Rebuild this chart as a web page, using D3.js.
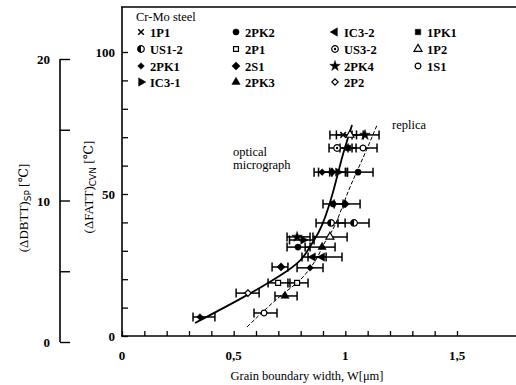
<!DOCTYPE html>
<html>
<head>
<meta charset="utf-8">
<script src="https://cdn.jsdelivr.net/npm/d3@7"></script>
<style>
  body { margin: 0; background: #fff; }
  svg { display: block; }
  text { font-family: "Liberation Serif", "DejaVu Serif", serif; fill: #000; }
</style>
</head>
<body>
<svg id="chart" width="516" height="385"></svg>
<script>
// ==================================
// DATA
// ==================================
// legend entries (row by row) and their marker
const seriesNames   = ["1P1", "2PK2", "IC3-2", "1PK1", "US1-2", "2P1", "US3-2", "1P2",
                       "2PK1", "2S1", "2PK4", "1S1", "IC3-1", "2PK3", "2P2"];
const seriesMarkers = ["times", "dot", "triLeft", "square", "half", "openSquare", "circleDot", "openTri",
                       "smallDiamond", "diamond", "star", "openCircle", "triRight", "triUp", "openDiamond"];

// measured points: series, grain boundary width W, (dFATT)cvn, error bar low / high
const pointSeries = ["2PK1", "2P2", "1S1", "2S1", "2P1", "2P1", "2PK3", "2PK1",
                     "IC3-2", "IC3-2", "2PK2", "2PK3", "2PK4", "IC3-1", "1P2",
                     "US1-2", "US1-2", "2PK2", "2S1", "2PK1", "2S1", "IC3-1", "2PK2",
                     "US3-2", "1PK1", "1S1", "1P1", "1P2", "2PK4"];
const pointW      = [0.349, 0.564, 0.636, 0.712, 0.699, 0.784, 0.730, 0.842,
                     0.855, 0.896, 0.788, 0.896, 0.784, 0.811, 0.931,
                     0.936, 1.039, 0.945, 0.999, 0.896, 0.940, 0.967, 1.057,
                     0.963, 1.012, 1.079, 0.990, 1.021, 1.088];
const pointFATT   = [6.7, 15.1, 8.1, 24.3, 18.7, 18.7, 14.1, 24.0,
                     27.8, 27.8, 31.3, 31.3, 34.9, 33.8, 34.9,
                     39.8, 39.8, 46.5, 46.5, 57.7, 57.7, 57.7, 57.7,
                     66.2, 66.2, 66.2, 70.8, 70.8, 70.8];
const pointLo     = [0.318, 0.511, 0.591, 0.672, 0.654, 0.743, 0.685, 0.784,
                     0.806, 0.833, 0.739, 0.820, 0.739, 0.750, 0.855,
                     0.869, 0.967, 0.900, 0.950, 0.860, 0.880, 0.930, 1.008,
                     0.927, 0.976, 1.030, 0.931, 0.960, 1.030];
const pointHi     = [0.416, 0.614, 0.694, 0.743, 0.752, 0.833, 0.784, 0.900,
                     0.914, 0.985, 0.842, 0.954, 0.842, 0.860, 1.008,
                     0.999, 1.106, 0.990, 1.066, 0.940, 1.000, 1.010, 1.124,
                     1.012, 1.048, 1.142, 1.050, 1.080, 1.151];

// fitted curves
const opticalW    = [0.327, 0.560, 0.739, 0.811, 0.855, 0.896, 0.945, 0.985, 1.030];
const opticalFATT = [4.6, 14.4, 22.9, 27.8, 33.1, 39.1, 50.7, 62.7, 74.3];
const replicaW    = [0.560, 0.640, 0.721, 0.797, 0.846, 0.878, 0.909, 0.954, 1.012, 1.079, 1.142];
const replicaFATT = [3.2, 9.2, 14.8, 19.7, 24.3, 28.2, 33.1, 39.1, 50.7, 62.7, 74.3];

// tick labels
const xTickValues = [0, 0.5, 1, 1.5];
const xTickLabels = ["0", "0,5", "1", "1,5"];
const yTickValues = [0, 50, 100];
const spTickValues = [0, 10, 20];

// ==================================
// SCALES
// ==================================
const svg = d3.select("#chart");

const x = d3.scaleLinear().domain([0, 1.5]).range([122, 457]);
const y = d3.scaleLinear().domain([0, 100]).range([336, 52]);
const ySP = d3.scaleLinear().domain([0, 20]).range([342, 59]);

// ==================================
// AXES
// ==================================
// frame top + left axis line + bottom axis line
svg.append("line").attr("x1", 121).attr("x2", 516).attr("y1", 7).attr("y2", 7)
    .attr("stroke", "#000").attr("stroke-width", 1.5);
svg.append("line").attr("x1", 122).attr("x2", 122).attr("y1", 7).attr("y2", 336)
    .attr("stroke", "#000").attr("stroke-width", 1.6);
svg.append("line").attr("x1", 121).attr("x2", 516).attr("y1", 336).attr("y2", 336)
    .attr("stroke", "#000").attr("stroke-width", 1.6);

// y ticks (inward)
const yAxis = d3.axisRight(y).tickValues(d3.range(0, 101, 10)).tickSize(6).tickFormat("");
svg.append("g").attr("transform", "translate(122,0)").call(yAxis)
    .call(g => g.select(".domain").remove())
    .selectAll("line").attr("stroke-width", 1.3);
svg.append("g").selectAll("text").data(yTickValues).enter().append("text")
    .attr("x", 115).attr("y", d => y(d) + 5)
    .attr("text-anchor", "end").style("font-size", "13px").style("font-weight", "bold")
    .text(d => d);

// x ticks (inward)
const xAxis = d3.axisTop(x).tickValues(d3.range(0, 16).map(i => i / 10)).tickSize(5).tickFormat("");
svg.append("g").attr("transform", "translate(0,336)").call(xAxis)
    .call(g => g.select(".domain").remove())
    .selectAll("line").attr("stroke-width", 1.3);
svg.append("g").selectAll("text").data(xTickValues).enter().append("text")
    .attr("x", (d, i) => x(d)).attr("y", 360)
    .attr("text-anchor", "middle").style("font-size", "13px").style("font-weight", "bold")
    .text((d, i) => xTickLabels[i]);

svg.append("text").attr("x", 307).attr("y", 380).attr("text-anchor", "middle")
    .style("font-size", "12.5px").text("Grain boundary width, W[μm]");

// secondary (dDBTT)sp axis
svg.append("line").attr("x1", 60).attr("x2", 60).attr("y1", ySP(20)).attr("y2", ySP(0))
    .attr("stroke", "#000").attr("stroke-width", 1.6);
const spAxis = d3.axisRight(ySP).tickValues(d3.range(0, 21, 5)).tickSize(10).tickFormat("");
svg.append("g").attr("transform", "translate(60,0)").call(spAxis)
    .call(g => g.select(".domain").remove())
    .selectAll("line").attr("stroke-width", 1.4);
svg.append("g").selectAll("text").data(spTickValues).enter().append("text")
    .attr("x", 50).attr("y", d => ySP(d) + 5)
    .attr("text-anchor", "end").style("font-size", "13px").style("font-weight", "bold")
    .text(d => d);

// rotated axis titles
const fattTitle = svg.append("text").attr("transform", "translate(93,187) rotate(-90)")
    .attr("text-anchor", "middle").style("font-size", "13px");
fattTitle.append("tspan").text("(ΔFATT)");
fattTitle.append("tspan").attr("dy", 3).style("font-size", "9px").style("font-family", "DejaVu Sans").text("CVN");
fattTitle.append("tspan").attr("dy", -3).text(" [℃]");

const dbttTitle = svg.append("text").attr("transform", "translate(28,208) rotate(-90)")
    .attr("text-anchor", "middle").style("font-size", "13px");
dbttTitle.append("tspan").text("(ΔDBTT)");
dbttTitle.append("tspan").attr("dy", 3).style("font-size", "9px").style("font-family", "DejaVu Sans").text("SP");
dbttTitle.append("tspan").attr("dy", -3).text(" [℃]");

// ==================================
// MARKERS
// ==================================
function drawMarker(g, type) {
    const sym = (t, size, fill, rot) => g.append("path")
        .attr("d", d3.symbol().type(t).size(size)())
        .attr("transform", rot ? "rotate(" + rot + ")" : null)
        .attr("fill", fill ? "#000" : "#fff")
        .attr("stroke", "#000").attr("stroke-width", fill ? 0.5 : 1.2);
    switch (type) {
        case "times": g.append("path").attr("d", d3.symbol().type(d3.symbolTimes).size(22)())
            .attr("fill", "none").attr("stroke", "#000").attr("stroke-width", 1.5); break;
        case "dot": sym(d3.symbolCircle, 30, true); break;
        case "triLeft": sym(d3.symbolTriangle, 30, true, -90); break;
        case "triRight": sym(d3.symbolTriangle, 30, true, 90); break;
        case "triUp": sym(d3.symbolTriangle, 30, true); break;
        case "openTri": sym(d3.symbolTriangle, 28, false); break;
        case "square": sym(d3.symbolSquare, 30, true); break;
        case "openSquare": sym(d3.symbolSquare, 24, false); break;
        case "diamond": sym(d3.symbolSquare, 34, true, 45); break;
        case "smallDiamond": sym(d3.symbolSquare, 22, true, 45); break;
        case "openDiamond": sym(d3.symbolSquare, 20, false, 45); break;
        case "star": sym(d3.symbolStar, 34, true); break;
        case "openCircle": sym(d3.symbolCircle, 26, false); break;
        case "circleDot":
            sym(d3.symbolCircle, 34, false);
            g.append("circle").attr("r", 1.2).attr("fill", "#000");
            break;
        case "half":
            sym(d3.symbolCircle, 34, false);
            g.append("path").attr("d", "M0,-3.3A3.3,3.3 0 0 0 0,3.3Z").attr("fill", "#000");
            break;
    }
}
const markerOf = name => seriesMarkers[seriesNames.indexOf(name)];

// ==================================
// LEGEND
// ==================================
const legendCols = [141, 236, 335, 418];
const legendRows = [32, 49, 66, 82];
svg.append("text").attr("x", 136).attr("y", 21).style("font-size", "12.5px").text("Cr-Mo steel");
const legend = svg.append("g").selectAll("g").data(seriesNames).enter().append("g")
    .attr("transform", (d, i) => "translate(" + legendCols[i % 4] + "," + legendRows[Math.floor(i / 4)] + ")");
legend.each(function(d) { drawMarker(d3.select(this), markerOf(d)); });
legend.append("text").attr("x", 9).attr("y", 4.5)
    .style("font-size", "12.5px").style("font-weight", "bold").text(d => d);

// ==================================
// CURVES
// ==================================
const line = d3.line().x(d => x(d[0])).y(d => y(d[1])).curve(d3.curveNatural);
svg.append("path").datum(d3.zip(opticalW, opticalFATT)).attr("d", line)
    .attr("fill", "none").attr("stroke", "#000").attr("stroke-width", 1.8);
svg.append("path").datum(d3.zip(replicaW, replicaFATT)).attr("d", line)
    .attr("fill", "none").attr("stroke", "#000").attr("stroke-width", 1)
    .attr("stroke-dasharray", "4,2");

svg.append("text").attr("x", 233).attr("y", 156).style("font-size", "12.5px").text("optical");
svg.append("text").attr("x", 233).attr("y", 169).style("font-size", "12.5px").text("micrograph");
svg.append("text").attr("x", 392).attr("y", 129).style("font-size", "12.5px").text("replica");

// ==================================
// POINTS WITH ERROR BARS
// ==================================
const pts = pointSeries.map((s, i) => ({ s: s, w: pointW[i], f: pointFATT[i], lo: pointLo[i], hi: pointHi[i] }));
const eb = svg.append("g").attr("stroke", "#000").attr("stroke-width", 1.5);
pts.forEach(p => {
    eb.append("line").attr("x1", x(p.lo)).attr("x2", x(p.hi)).attr("y1", y(p.f)).attr("y2", y(p.f));
    eb.append("line").attr("x1", x(p.lo)).attr("x2", x(p.lo)).attr("y1", y(p.f) - 4.5).attr("y2", y(p.f) + 4.5);
    eb.append("line").attr("x1", x(p.hi)).attr("x2", x(p.hi)).attr("y1", y(p.f) - 4.5).attr("y2", y(p.f) + 4.5);
});
svg.append("g").selectAll("g").data(pts).enter().append("g")
    .attr("transform", d => "translate(" + x(d.w) + "," + y(d.f) + ")")
    .each(function(d) { drawMarker(d3.select(this), markerOf(d.s)); });
</script>
</body>
</html>
